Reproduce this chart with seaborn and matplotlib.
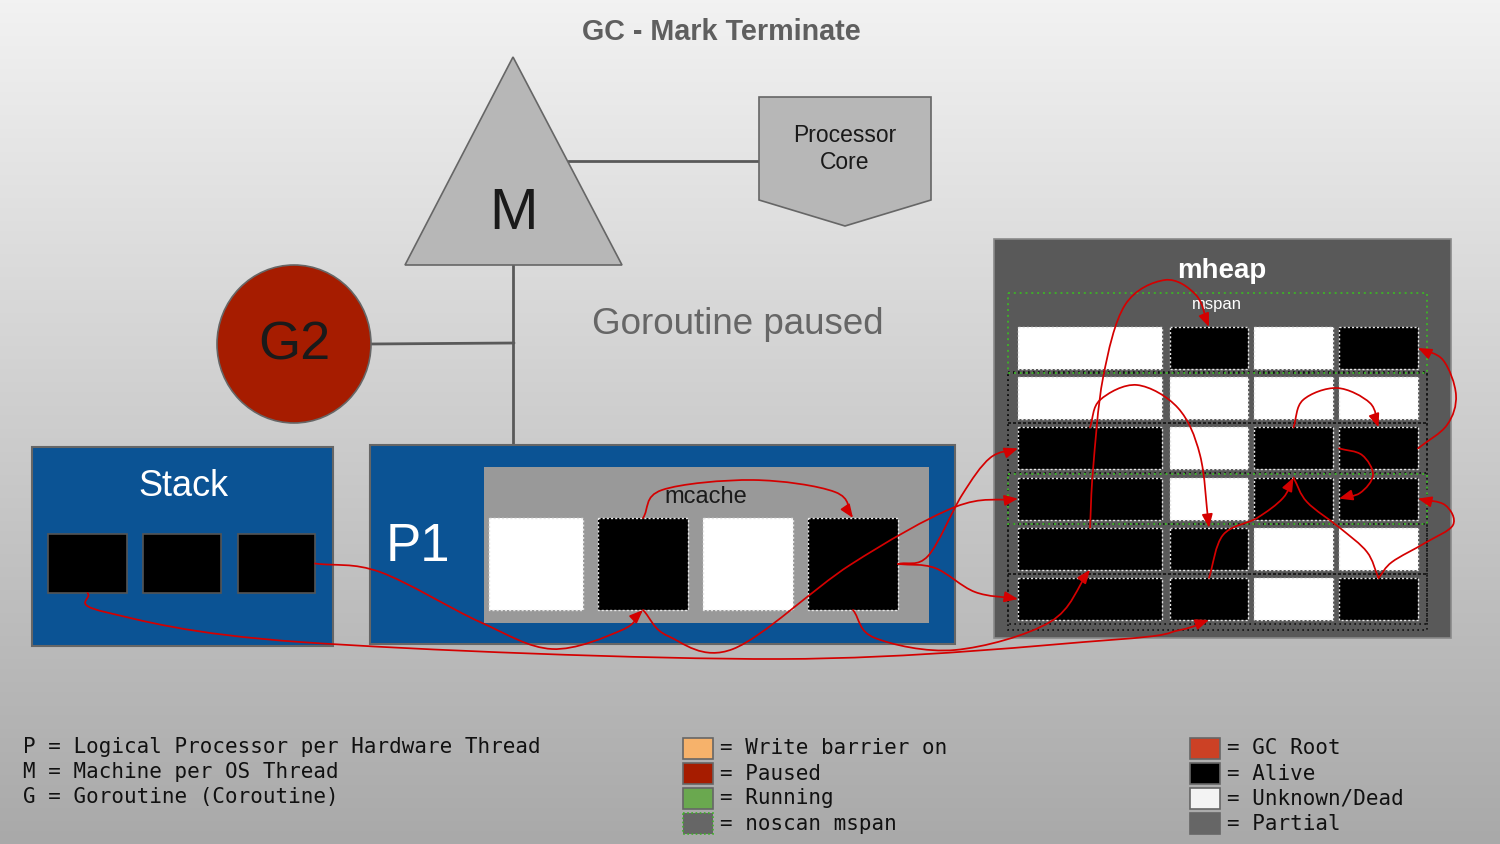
import numpy as np
import seaborn as sns
import matplotlib.pyplot as plt
from matplotlib.colors import LinearSegmentedColormap
from matplotlib.patches import Rectangle, Polygon, Ellipse, FancyArrowPatch
from matplotlib.path import Path

sns.set_theme(style='white')
plt.rcParams['font.family'] = ['Liberation Sans', 'DejaVu Sans']

#%% diagram content
title = 'GC - Mark Terminate'
status_text = 'Goroutine paused'
stack_states = ['alive', 'alive', 'alive']
mcache_states = ['dead', 'alive', 'dead', 'alive']
heap_rows = [['dead', 'alive', 'dead', 'alive'],
             ['dead', 'dead', 'dead', 'dead'],
             ['alive', 'dead', 'alive', 'alive'],
             ['alive', 'dead', 'alive', 'alive'],
             ['alive', 'alive', 'dead', 'dead'],
             ['alive', 'alive', 'dead', 'alive']]
noscan_rows = [0, 3]

key_lines = ['P = Logical Processor per Hardware Thread',
             'M = Machine per OS Thread',
             'G = Goroutine (Coroutine)']
status_labels = ['Write barrier on', 'Paused', 'Running', 'noscan mspan']
status_colors = ['#f6b26b', '#a61c00', '#6aa84f', '#666666']
mark_labels = ['GC Root', 'Alive', 'Unknown/Dead', 'Partial']
mark_colors = ['#cc4125', '#000000', '#f3f3f3', '#666666']

# pointers: source node/side -> target node/side, with bend points
pointers = [
    (('s2', 'right'), ('c1', 'bottom'), [(380, 572), (480, 622), (552, 649), (622, 630)], True),
    (('c1', 'bottom'), ('h30', 'left'), [(668, 636), (733, 649), (850, 565), (955, 507)], True),
    (('c1', 'top'), ('c3', 'top'), [(662, 490), (753, 480), (835, 492)], True),
    (('c3', 'right'), ('h20', 'left'), [(928, 556), (962, 495), (990, 458)], True),
    (('c3', 'right'), ('h50', 'left'), [(935, 568), (975, 592)], True),
    (('c3', 'bottom'), ('h40', 'bottom'), [(875, 638), (955, 650), (1050, 622)], True),
    (('s0', 'bottom'), ('h51', 'bottom'), [(105, 612), (300, 642), (780, 659), (1110, 640), (1180, 630)], True),
    (('h40', 'top'), ('h01', 'top'), [(1093, 470), (1103, 378), (1125, 305), (1165, 280), (1196, 295)], True),
    (('h20', 'top'), ('h41', 'top'), [(1100, 400), (1137, 385), (1178, 408), (1200, 455)], True),
    (('h22', 'top'), ('h23', 'top'), [(1303, 400), (1337, 388), (1370, 403)], True),
    (('h23', 'right'), ('h03', 'right'), [(1447, 425), (1456, 395), (1443, 360)], True),
    (('h23', 'left'), ('h33', 'left'), [(1362, 455), (1373, 475), (1360, 493)], True),
    (('h51', 'top'), ('h32', 'top'), [(1223, 535), (1257, 518), (1283, 498)], True),
    (('h53', 'top'), ('h32', 'top'), [(1367, 552), (1340, 528), (1307, 502)], False),
    (('h53', 'top'), ('h33', 'right'), [(1392, 562), (1425, 543), (1453, 525), (1445, 505)], True),
]

#%% styles
state_fill = {'alive': '#000000', 'dead': '#ffffff'}
blue = '#0b5394'
edge = '#666666'
wire = '#595959'
red = '#d40000'
green = '#3fae2a'

nodes = {}


def anchor(key, side):
    x, y, w, h = nodes[key]
    return {'top': (x + w / 2, y), 'bottom': (x + w / 2, y + h),
            'left': (x, y + h / 2), 'right': (x + w, y + h / 2)}[side]


def smooth_path(pts):
    pts = np.asarray(pts, dtype=float)
    n = len(pts)
    tang = np.zeros_like(pts)
    tang[0] = pts[1] - pts[0]
    tang[-1] = pts[-1] - pts[-2]
    for i in range(1, n - 1):
        tang[i] = (pts[i + 1] - pts[i - 1]) / 2
    verts = [pts[0]]
    codes = [Path.MOVETO]
    for i in range(n - 1):
        verts += [pts[i] + tang[i] / 3, pts[i + 1] - tang[i + 1] / 3, pts[i + 1]]
        codes += [Path.CURVE4] * 3
    return Path(verts, codes)


fig = plt.figure(figsize=(15, 8.44), dpi=100)
ax = fig.add_axes([0, 0, 1, 1])
ax.set_xlim(0, 1500)
ax.set_ylim(844, 0)
ax.axis('off')

bg = LinearSegmentedColormap.from_list('bg', ['#f2f2f2', '#a9a9a9'])
ax.imshow(np.linspace(0, 1, 256)[:, None], cmap=bg, aspect='auto',
          extent=[0, 1500, 844, 0], zorder=0)

ax.text(721, 32, title, ha='center', va='center', fontsize=20.7,
        fontweight='bold', color='#5f5f5f')

#---------------------------------------------
# M, processor core, goroutine
ax.plot([568, 759], [161, 161], color=wire, lw=2, zorder=1)
ax.plot([513, 513], [265, 446], color=wire, lw=2, zorder=1)
ax.plot([370, 514], [344, 343], color=wire, lw=2, zorder=1)

ax.add_patch(Polygon([(513, 57), (405, 265), (622, 265)], closed=True,
                     fc='#b7b7b7', ec=edge, lw=1.2, zorder=2))
ax.text(513, 214, 'M', ha='center', va='center', fontsize=42, color='k', zorder=3)

ax.add_patch(Polygon([(759, 97), (931, 97), (931, 200), (845, 226), (759, 200)],
                     closed=True, fc='#b7b7b7', ec=edge, lw=1.2, zorder=2))
ax.text(845, 149, 'Processor\nCore', ha='center', va='center', fontsize=16.5,
        color='k', linespacing=1.25, zorder=3)

ax.add_patch(Ellipse((294, 344), 154, 158, fc='#a61c00', ec=edge, lw=1.2, zorder=2))
ax.text(294, 346, 'G2', ha='center', va='center', fontsize=39, color='k', zorder=3)

ax.text(738, 324, status_text, ha='center', va='center', fontsize=26.5, color='#666666')

#---------------------------------------------
# stack
ax.add_patch(Rectangle((32, 447), 301, 199, fc=blue, ec=edge, lw=1.5, zorder=2))
ax.text(183, 486, 'Stack', ha='center', va='center', fontsize=26, color='w', zorder=3)
for i, (st, x, w) in enumerate(zip(stack_states, [48, 143, 238], [79, 78, 77])):
    nodes[f's{i}'] = (x, 534, w, 59)
    ax.add_patch(Rectangle((x, 534), w, 59, fc=state_fill[st], ec='#555555',
                           lw=1.2, zorder=3))

# P1 and mcache
ax.add_patch(Rectangle((370, 445), 585, 199, fc=blue, ec=edge, lw=1.5, zorder=2))
ax.text(418, 547, 'P1', ha='center', va='center', fontsize=38, color='w', zorder=3)
ax.add_patch(Rectangle((484, 467), 445, 156, fc='#999999', ec='none', zorder=3))
ax.text(706, 497, 'mcache', ha='center', va='center', fontsize=17, color='k', zorder=4)
for i, (st, x, w) in enumerate(zip(mcache_states, [489, 598, 703, 808], [94, 90, 90, 90])):
    nodes[f'c{i}'] = (x, 518, w, 92)
    ax.add_patch(Rectangle((x, 518), w, 92, fc=state_fill[st], ec='none', zorder=4))
    ax.add_patch(Rectangle((x, 518), w, 92, fc='none', ec='#e6e6e6', lw=1,
                           ls=(0, (1.5, 1.5)), zorder=4))

#---------------------------------------------
# mheap
ax.add_patch(Rectangle((994, 239), 457, 399, fc='#595959', ec='#8a8a8a', lw=1.2, zorder=2))
ax.text(1222, 271, 'mheap', ha='center', va='center', fontsize=20,
        fontweight='bold', color='w', zorder=3)

col_x = [1018, 1170, 1254, 1339]
col_w = [144, 78, 79, 79]
row_y0, row_pitch, row_h = 327, 50.2, 42

ax.add_patch(Rectangle((1008, 372), 419, 258, fc='none', ec='#111111', lw=1.2,
                       ls=(0, (1, 2)), zorder=3))
for r, row in enumerate(heap_rows):
    y = row_y0 + r * row_pitch
    if r in noscan_rows:
        top = 293 if r == 0 else y - 4
        ax.add_patch(Rectangle((1008, top), 419, y + row_h + 4 - top, fc='none',
                               ec=green, lw=1.4, ls=(0, (1, 2)), zorder=4))
    else:
        ax.add_patch(Rectangle((1008, y - 4), 419, row_h + 8, fc='none',
                               ec='#111111', lw=1.2, ls=(0, (1, 2)), zorder=3))
    for c, st in enumerate(row):
        nodes[f'h{r}{c}'] = (col_x[c], y, col_w[c], row_h)
        ax.add_patch(Rectangle((col_x[c], y), col_w[c], row_h, fc=state_fill[st],
                               ec='none', zorder=4))
        ax.add_patch(Rectangle((col_x[c], y), col_w[c], row_h, fc='none',
                               ec='#e6e6e6', lw=1, ls=(0, (1.5, 1.5)), zorder=4))
ax.text(1217, 304, 'mspan', ha='center', va='center', fontsize=12, color='w', zorder=5)

#---------------------------------------------
# pointers
for src, dst, via, head in pointers:
    pts = [anchor(*src)] + via + [anchor(*dst)]
    style = '-|>,head_length=0.45,head_width=0.18' if head else '-'
    ax.add_patch(FancyArrowPatch(path=smooth_path(pts), arrowstyle=style,
                                 mutation_scale=18, color=red, lw=1.25, zorder=6))

#---------------------------------------------
# legend
mono = ['DejaVu Sans Mono']
for i, line in enumerate(key_lines):
    ax.text(23, 747 + i * 25, line, ha='left', va='center', fontsize=15,
            family=mono, color='#111111')

for x0, labels, colors in [(683, status_labels, status_colors), (1190, mark_labels, mark_colors)]:
    pal = sns.color_palette(colors)
    for i, (lab, col) in enumerate(zip(labels, pal)):
        y = 738 + i * 25
        ec = green if lab == 'noscan mspan' else edge
        ls = (0, (1, 1.5)) if lab == 'noscan mspan' else '-'
        ax.add_patch(Rectangle((x0, y), 30, 21, fc=col, ec=ec, lw=1.2, ls=ls, zorder=2))
        ax.text(x0 + 37, y + 10.5, '= ' + lab, ha='left', va='center', fontsize=15,
                family=mono, color='#111111')

fig.savefig('out.png', dpi=100)
plt.close()
